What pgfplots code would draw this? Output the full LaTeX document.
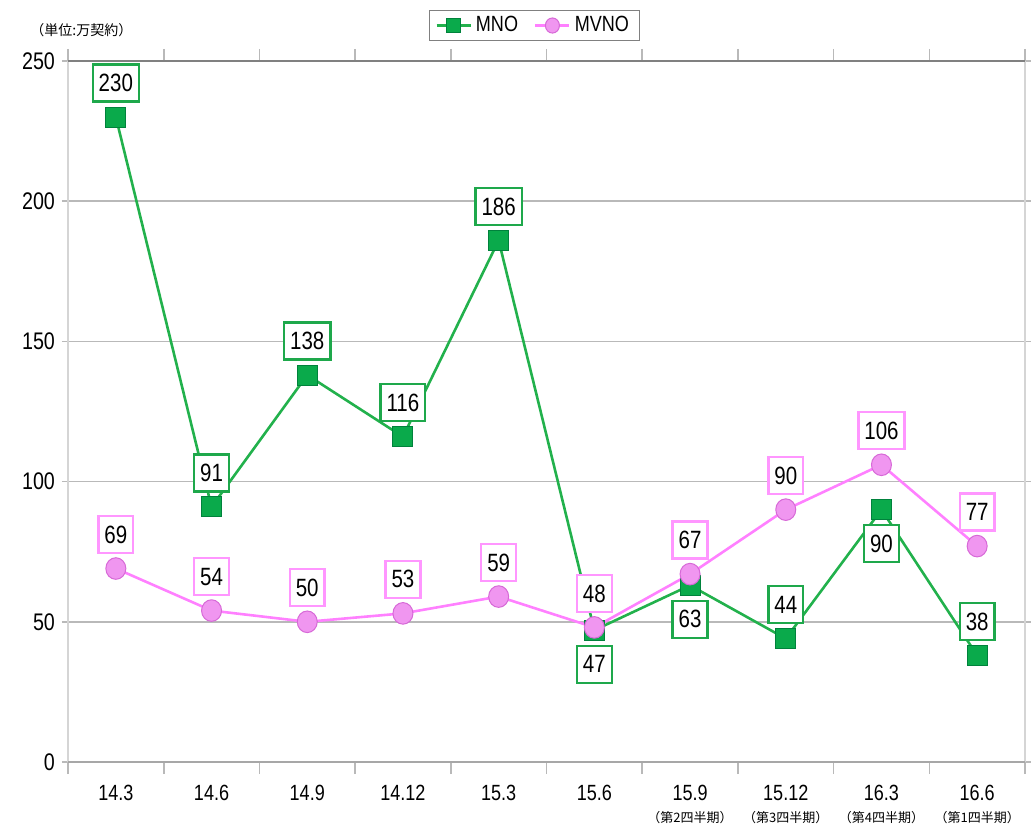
\documentclass[border=0pt]{standalone}
\usepackage{fontspec}
\setmainfont{Liberation Sans}[FakeStretch=0.82]
\newfontfamily\cjk{Noto Sans CJK JP}
\usepackage{pgfplots}
\usepackage{pgfplotstable}
\pgfplotsset{compat=1.18}
\definecolor{mnoLine}{RGB}{34,177,76}
\definecolor{mnoFill}{RGB}{10,170,75}
\definecolor{mnoEdge}{RGB}{0,130,60}
\definecolor{mnoBox}{RGB}{30,168,75}
\definecolor{mvnoLine}{RGB}{255,128,255}
\definecolor{mvnoFill}{RGB}{240,150,240}
\definecolor{mvnoEdge}{RGB}{215,105,215}
\definecolor{mvnoBox}{RGB}{255,150,255}
\definecolor{gridGray}{RGB}{185,185,185}

% quarterly net additions, unit: 10k contracts
\pgfplotstableread{
x mno mpos mvno
0 230  1  69
1  91  1  54
2 138  1  50
3 116  1  53
4 186  1  59
5  47 -1  48
6  63 -1  67
7  44  1  90
8  90 -1 106
9  38  1  77
}\datatab

\begin{document}
\begin{tikzpicture}
\begin{axis}[
  name=ax,
  scale only axis,
  width=478.5pt, height=350.5pt,
  xmin=-0.5, xmax=9.5,
  ymin=0, ymax=250,
  clip=false,
  /pgf/number format/assume math mode=true,
  axis line style={draw=none},
  xtick={0,...,9},
  xticklabels={14.3,14.6,14.9,14.12,15.3,15.6,
    {15.9\\{\cjk\fontsize{6.5}{8}\selectfont （第2四半期）}},
    {15.12\\{\cjk\fontsize{6.5}{8}\selectfont （第3四半期）}},
    {16.3\\{\cjk\fontsize{6.5}{8}\selectfont （第4四半期）}},
    {16.6\\{\cjk\fontsize{6.5}{8}\selectfont （第1四半期）}}},
  xticklabel style={align=center, font=\fontsize{11}{11}\selectfont, yshift=-5pt},
  minor xtick={-0.5,0.5,...,9.5},
  major x tick style={draw=none},
  minor x tick style={draw=gridGray, line width=0.8pt},
  minor tick length=6pt,
  ytick={0,50,...,250},
  yticklabel style={font=\fontsize{12}{12}\selectfont},
  major y tick style={draw=gridGray, line width=0.8pt},
  major tick length=3pt,
  tick align=outside,
  ymajorgrids,
  grid style={draw=gridGray, line width=0.8pt},
  nodes near coords,
  visualization depends on={\thisrow{mpos} \as \lpos},
  every node near coord/.append style={anchor=center, yshift=\lpos*17pt,
    font=\fontsize{12.5}{14}\selectfont, text=black, fill=white, line width=1.2pt,
    inner xsep=3pt, inner ysep=0pt, minimum height=18.5pt},
  legend columns=2,
  legend style={at={(0.487,1.0506)}, anchor=center, draw=gray,
    font=\fontsize{11}{13}\selectfont, inner ysep=1pt, inner xsep=3pt,
    /tikz/every even column/.append style={column sep=6pt}},
  legend image code/.code={\draw[mark size=3.5pt, mark repeat=2, mark phase=2]
    plot coordinates {(0cm,0cm) (0.3cm,0cm) (0.6cm,0cm)};},
]
\addplot[color=mnoLine, line width=1.3pt, mark=square*,
  mark size=5pt, mark options={fill=mnoFill, draw=mnoEdge, line width=0.5pt},
  every node near coord/.append style={draw=mnoBox}]
  table[x=x, y=mno] {\datatab};
\addlegendentry{MNO}
\addplot[color=mvnoLine, line width=1.3pt, mark=*,
  mark size=5pt, mark options={fill=mvnoFill, draw=mvnoEdge, line width=0.5pt, yscale=1.08},
  every node near coord/.append style={draw=mvnoBox, yshift=17pt-\lpos*17pt}]
  table[x=x, y=mvno] {\datatab};
\addlegendentry{MVNO}
\end{axis}
\draw[gridGray!60, line width=1.2pt] (ax.south west) -- (ax.north west);
\draw[gridGray!60, line width=1.2pt] (ax.south east) -- (ax.north east);
\draw[gridGray!90!black, line width=0.8pt] (ax.south west) -- (ax.south east);
\draw[gray, line width=1pt] (ax.north west) -- (ax.north east);
\node[anchor=west, inner sep=0pt, font=\cjk\fontsize{7}{8}\selectfont]
  at ([shift={(-19pt,15.5pt)}]ax.north west) {（単位:万契約）};
\pgfresetboundingbox
\path[use as bounding box] ([shift={(-34pt,-33pt)}]ax.south west)
  rectangle ([shift={(3pt,30.5pt)}]ax.north east);
\end{tikzpicture}
\end{document}
